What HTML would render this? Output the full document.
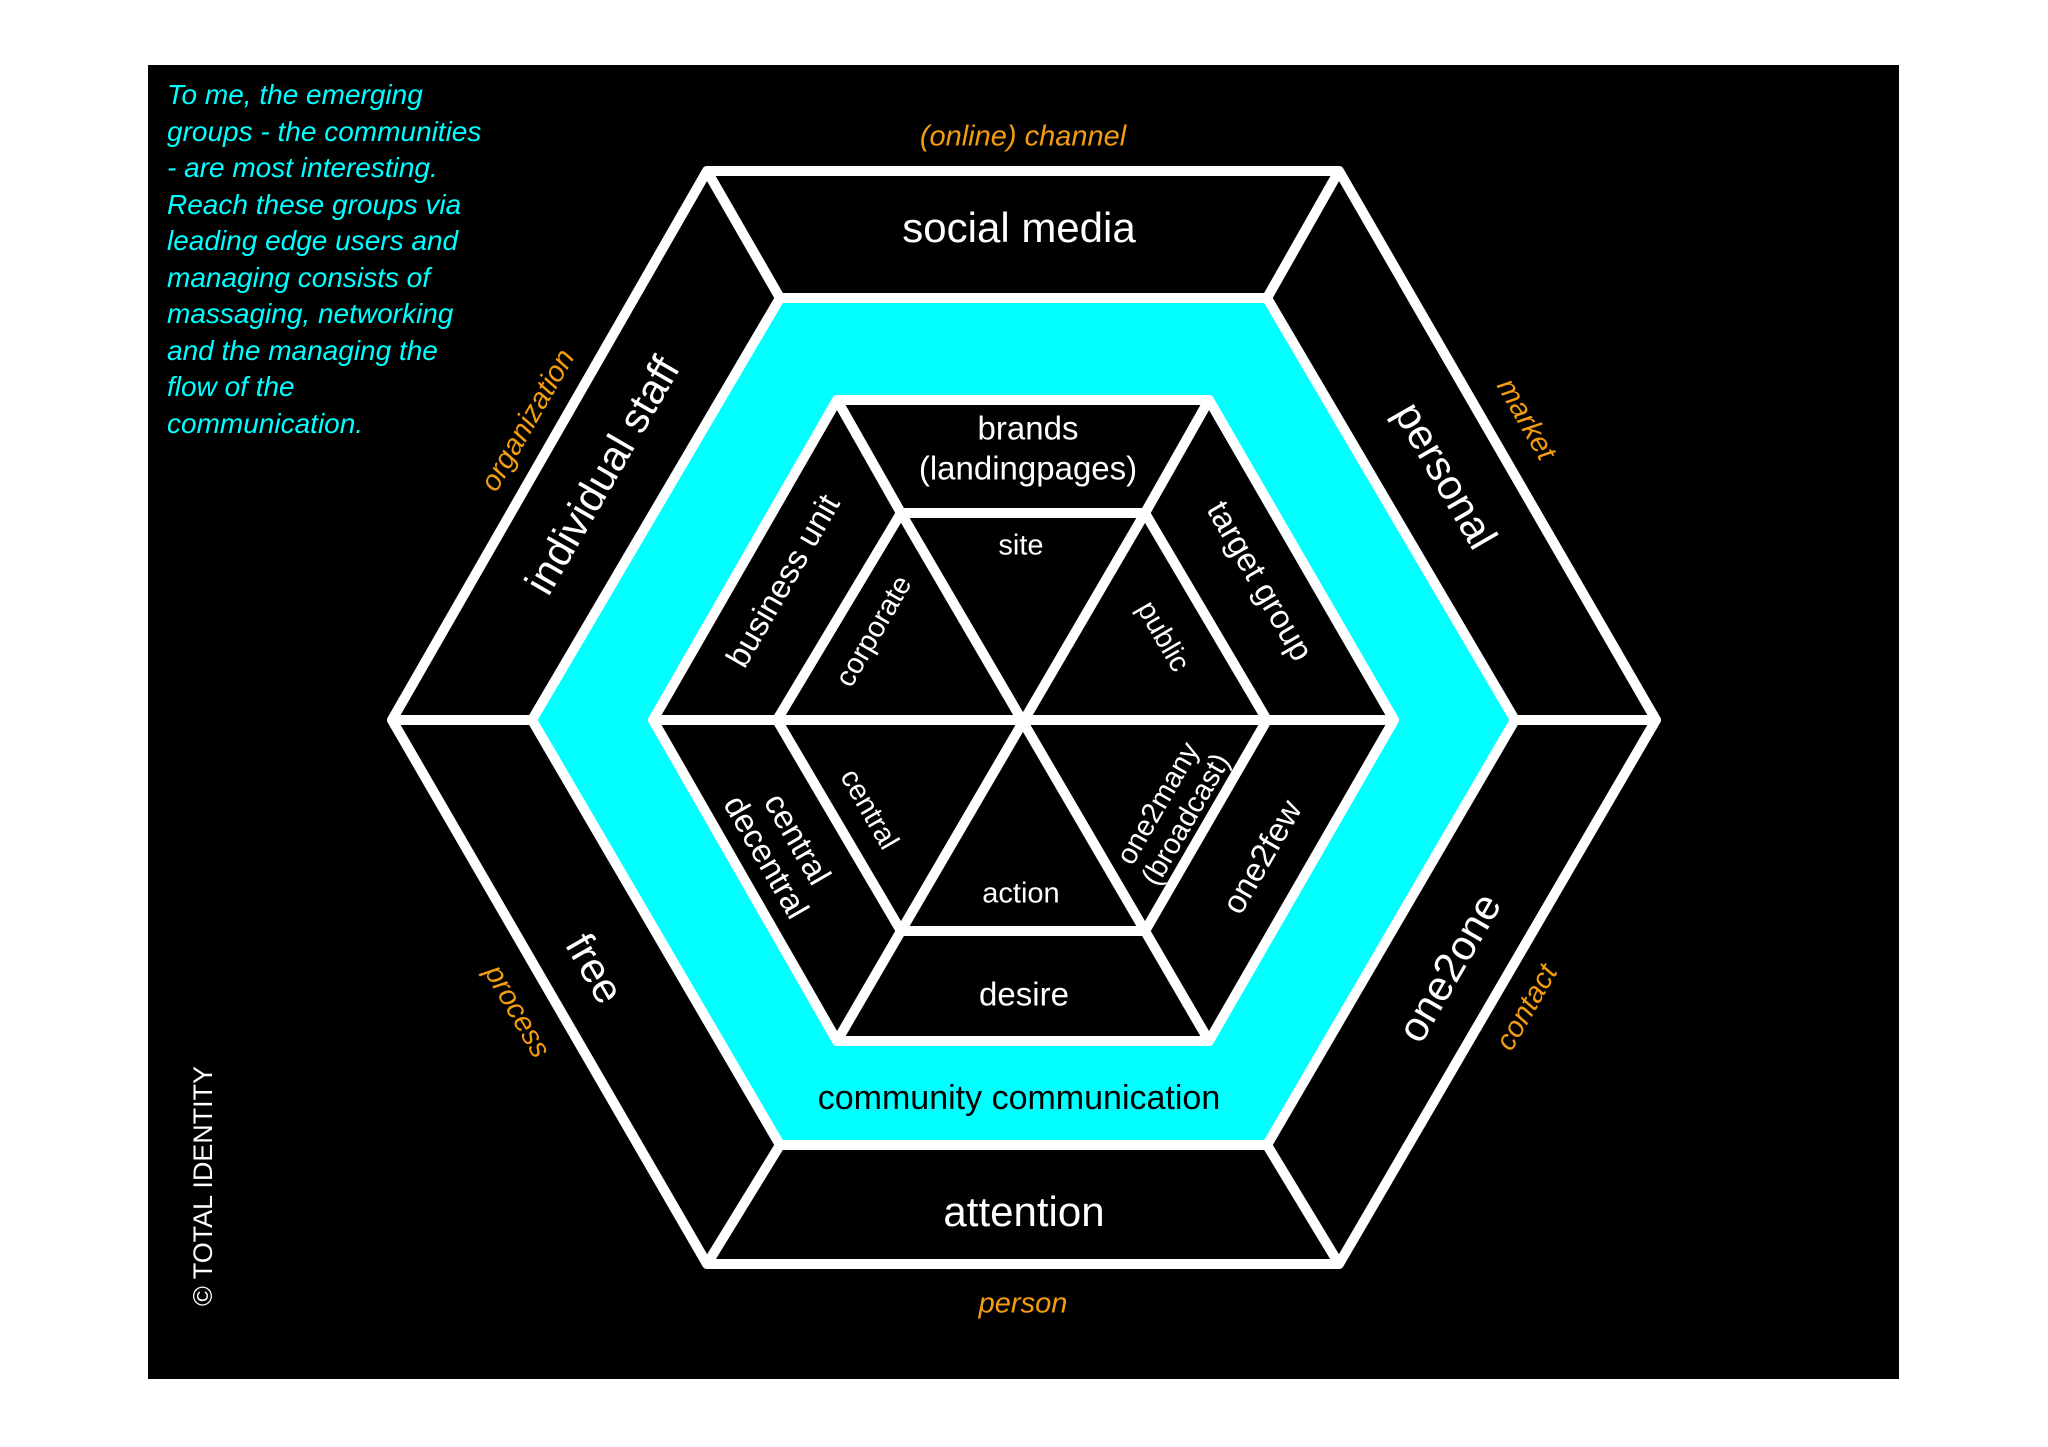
<!DOCTYPE html>
<html><head><meta charset="utf-8"><style>
html,body{margin:0;padding:0;background:#fff;}
svg{display:block;}
text{font-family:"Liberation Sans","DejaVu Sans",sans-serif;}
</style></head><body>
<svg width="2048" height="1447" viewBox="0 0 2048 1447" xmlns="http://www.w3.org/2000/svg">
<rect x="148" y="65" width="1751" height="1314" fill="#000"/>
<g stroke="#fff" stroke-width="10" stroke-linejoin="round" fill="none">
<polygon points="707,171 1339,171 1656,720 1339,1264 707,1264 392,720"/>
<line x1="707" y1="171" x2="780" y2="298"/>
<line x1="1339" y1="171" x2="1267" y2="298"/>
<line x1="1656" y1="720" x2="1515" y2="720"/>
<line x1="1339" y1="1264" x2="1267" y2="1145"/>
<line x1="707" y1="1264" x2="780" y2="1145"/>
<line x1="392" y1="720" x2="532" y2="720"/>
<polygon points="780,298 1267,298 1515,720 1267,1145 780,1145 532,720" fill="#00ffff"/>
<polygon points="837,400 1209,400 1394,720 1209,1041 837,1041 653,720" fill="#000"/>
<polygon points="901,513 1145,513 1267,720 1145,931 901,931 777,720"/>
<line x1="837" y1="400" x2="901" y2="513"/>
<line x1="1209" y1="400" x2="1145" y2="513"/>
<line x1="1394" y1="720" x2="1267" y2="720"/>
<line x1="1209" y1="1041" x2="1145" y2="931"/>
<line x1="837" y1="1041" x2="901" y2="931"/>
<line x1="653" y1="720" x2="777" y2="720"/>
<line x1="901" y1="513" x2="1145" y2="931"/>
<line x1="1145" y1="513" x2="901" y2="931"/>
<line x1="777" y1="720" x2="1267" y2="720"/>
</g>
<g fill="#00ffff" font-style="italic" font-size="28">
<text x="167" y="104">To me, the emerging</text>
<text x="167" y="141">groups - the communities</text>
<text x="167" y="177">- are most interesting.</text>
<text x="167" y="214">Reach these groups via</text>
<text x="167" y="250">leading edge users and</text>
<text x="167" y="287">managing consists of</text>
<text x="167" y="323">massaging, networking</text>
<text x="167" y="360">and the managing the</text>
<text x="167" y="396">flow of the</text>
<text x="167" y="433">communication.</text>
</g>
<g fill="#f39c12" font-style="italic" font-size="29" text-anchor="middle" dominant-baseline="middle">
<text x="1023" y="138">(online) channel</text>
<text x="1023" y="1305">person</text>
<text transform="translate(1525,420) rotate(60)">market</text>
<text transform="translate(529,421) rotate(-60)">organization</text>
<text transform="translate(516,1012) rotate(60)">process</text>
<text transform="translate(1528,1008) rotate(-60)">contact</text>
</g>
<g fill="#fff" font-size="42" text-anchor="middle" dominant-baseline="middle">
<text x="1019" y="231">social media</text>
<text x="1024" y="1215">attention</text>
<text transform="translate(1443,477) rotate(60)">personal</text>
<text transform="translate(605,477) rotate(-60)">individual staff</text>
<text transform="translate(592,970) rotate(60)">free</text>
<text transform="translate(1452,969) rotate(-60)">one2one</text>
</g>
<text x="1019" y="1100" fill="#000" font-size="34" text-anchor="middle" dominant-baseline="middle">community communication</text>
<g fill="#fff" font-size="33" text-anchor="middle" dominant-baseline="middle">
<text x="1028" y="431">brands</text>
<text x="1028" y="471">(landingpages)</text>
<text transform="translate(785,582) rotate(-60)">business unit</text>
<text transform="translate(1258,582) rotate(60)">target group</text>
<text transform="translate(1264,858) rotate(-60)">one2few</text>
<text transform="translate(780,849) rotate(60)"><tspan x="0" dy="-18">central</tspan><tspan x="0" dy="36">decentral</tspan></text>
<text x="1024" y="997">desire</text>
</g>
<g fill="#fff" font-size="29" text-anchor="middle" dominant-baseline="middle">
<text x="1021" y="547">site</text>
<text x="1021" y="895">action</text>
<text transform="translate(875,632) rotate(-60)">corporate</text>
<text transform="translate(1162,637) rotate(60)">public</text>
<text transform="translate(868,810) rotate(60)">central</text>
<text transform="translate(1173,812) rotate(-60)"><tspan x="0" dy="-16">one2many</tspan><tspan x="0" dy="32">(broadcast)</tspan></text>
</g>
<text transform="translate(212,1306) rotate(-90)" fill="#fff" font-size="27" textLength="240">© TOTAL IDENTITY</text>
</svg>
</body></html>
